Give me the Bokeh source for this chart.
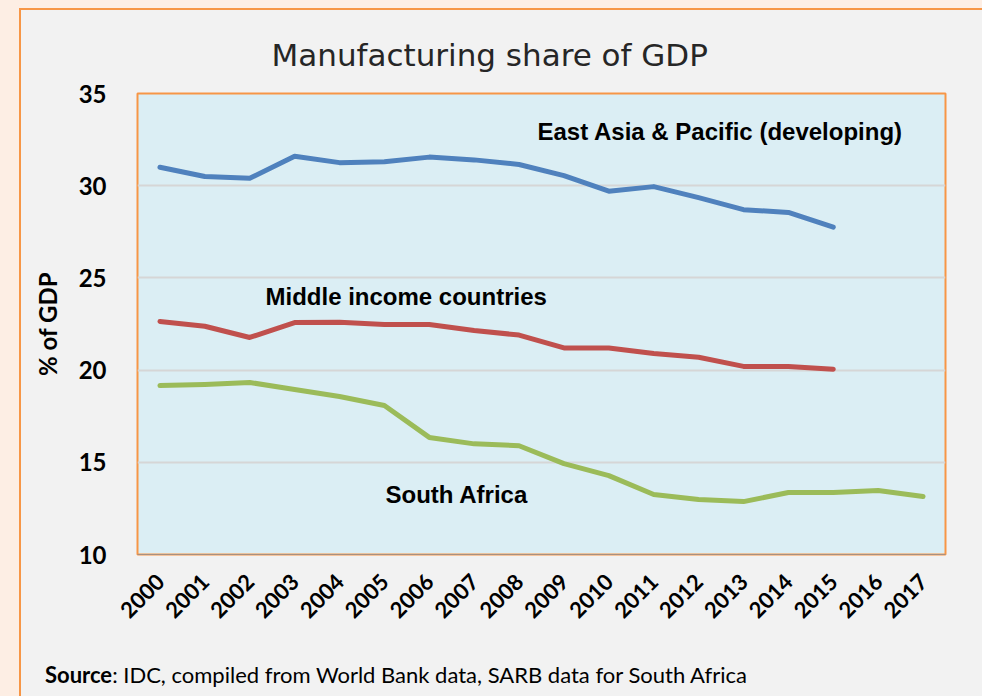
import math
from bokeh.plotting import figure
from bokeh.layouts import column
from bokeh.models import Label, FactorRange, Range1d, FixedTicker, Div
from bokeh.embed import file_html
from bokeh.resources import INLINE

years = [str(y) for y in range(2000, 2018)]
east_asia = [31.0, 30.5, 30.4, 31.6, 31.25, 31.3, 31.55, 31.4, 31.15, 30.55,
             29.7, 29.95, 29.35, 28.7, 28.55, 27.75]
middle_income = [22.64, 22.38, 21.77, 22.58, 22.6, 22.47, 22.47, 22.15, 21.9, 21.2,
                 21.2, 20.9, 20.7, 20.2, 20.2, 20.05]
south_africa = [19.16, 19.22, 19.33, 18.95, 18.57, 18.08, 16.35, 16.0, 15.9, 14.93,
                14.28, 13.25, 12.98, 12.87, 13.36, 13.36, 13.47, 13.15]
y_ticks = [10, 15, 20, 25, 30, 35]

title_text = "Manufacturing share of GDP"
y_label = "% of GDP"
series_names = ["East Asia & Pacific (developing)", "Middle income countries", "South Africa"]
colors = ["#4F81BD", "#C0504D", "#9BBB59"]
source_bold = "Source"
source_rest = ": IDC, compiled from World Bank data, SARB data for South Africa"

p = figure(width=958, height=630, x_range=FactorRange(*years), y_range=Range1d(10, 35),
           output_backend="svg", toolbar_location=None,
           min_border_left=116, min_border_right=34, min_border_top=83, min_border_bottom=86)

p.border_fill_color = "#F2F2F2"
p.background_fill_color = "#DBEEF4"
p.outline_line_color = "#F79646"
p.outline_line_width = 2

p.title.text = title_text
p.title.align = "left"
p.title.offset = 134
p.title.standoff = 41
p.title.text_font = "DejaVu Sans"
p.title.text_font_style = "normal"
p.title.text_font_size = "31px"
p.title.text_color = "#262626"

p.line(years[:len(east_asia)], east_asia, line_color=colors[0], line_width=5, line_cap="round", line_join="round")
p.line(years[:len(middle_income)], middle_income, line_color=colors[1], line_width=5, line_cap="round", line_join="round")
p.line(years[:len(south_africa)], south_africa, line_color=colors[2], line_width=5, line_cap="round", line_join="round")

# axes
p.yaxis.ticker = FixedTicker(ticks=y_ticks)
p.yaxis.major_label_text_font = "Lato"
p.yaxis.major_label_text_font_style = "bold"
p.yaxis.major_label_text_font_size = "24px"
p.yaxis.major_label_text_color = "#000000"
p.yaxis.major_label_standoff = 25
p.yaxis.axis_line_color = None
p.yaxis.major_tick_line_color = None
p.yaxis.minor_tick_line_color = None
p.yaxis.axis_label = y_label
p.yaxis.axis_label_text_font = "Lato"
p.yaxis.axis_label_text_font_style = "bold"
p.yaxis.axis_label_text_font_size = "24px"
p.yaxis.axis_label_text_color = "#000000"
p.yaxis.axis_label_standoff = 14

p.xaxis.major_label_orientation = math.pi / 4
p.xaxis.major_label_text_font = "Lato"
p.xaxis.major_label_text_font_style = "bold"
p.xaxis.major_label_text_font_size = "22px"
p.xaxis.major_label_text_color = "#000000"
p.xaxis.major_label_standoff = 17
p.xaxis.axis_line_color = "#A89080"
p.xaxis.axis_line_width = 1
p.xaxis.major_tick_line_color = None
p.xaxis.minor_tick_line_color = None

p.xgrid.grid_line_color = None
p.ygrid.grid_line_color = "#D6D6D6"
p.ygrid.grid_line_width = 2

# series labels (canvas pixels of the figure)
label_pos = [(516, 121), (244, 286), (364, 484)]
for name, (lx, ly) in zip(series_names, label_pos):
    p.add_layout(Label(x=lx, y=ly, x_units="canvas", y_units="canvas", text=name,
                       text_align="left", text_baseline="alphabetic",
                       text_font="Liberation Sans", text_font_style="bold",
                       text_font_size="24px", text_color="#000000"))

source = Div(text=f'<div style="font-family:Lato, sans-serif;font-size:22px;color:#000;'
                  f'padding-left:19px;padding-top:14px;white-space:nowrap;">'
                  f'<b>{source_bold}</b>{source_rest}</div>',
             width=958, height=70)

inner = column(p, source, spacing=0,
               styles={"background-color": "#F2F2F2", "border-left": "2px solid #F79646",
                       "border-top": "2px solid #F79646", "border-right": "2px solid #F79646"})
outer = column(inner, spacing=0,
               styles={"background-color": "#FDEEE4", "padding-left": "19px",
                       "padding-top": "8px", "padding-right": "1px"})

open("out.html", "w").write(file_html(outer, INLINE))
